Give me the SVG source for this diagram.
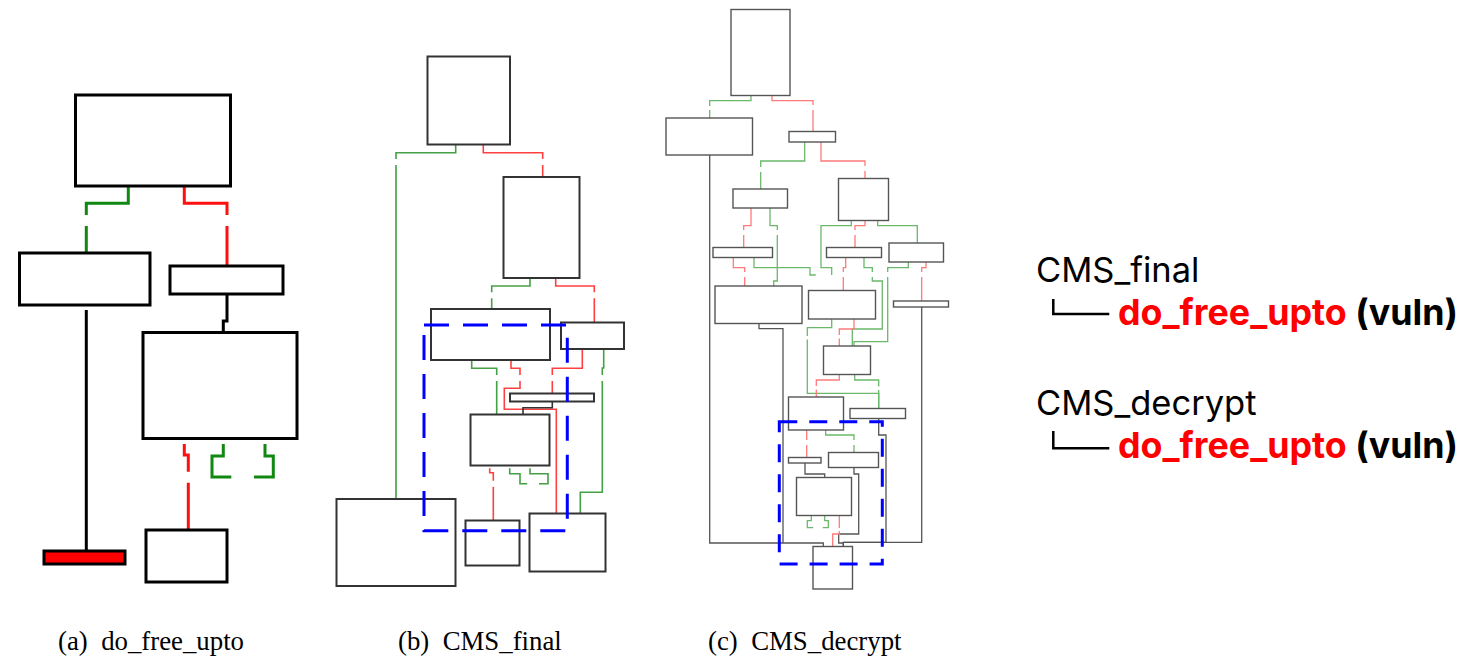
<svg xmlns="http://www.w3.org/2000/svg" width="1474" height="657" viewBox="0 0 1474 657">
  <style>
    .bg { fill: #ffffff; }
    /* panel (a): heavy strokes */
    .na { fill: #ffffff; stroke: #000000; stroke-width: 3; }
    .ea { fill: none; stroke-width: 3; }
    /* panel (b): medium strokes */
    .nb { fill: #ffffff; stroke: #333333; stroke-width: 2; }
    .eb { fill: none; stroke-width: 1.6; }
    /* panel (c): thin strokes */
    .nc { fill: #ffffff; stroke: #555555; stroke-width: 1.4; }
    .ec { fill: none; stroke-width: 1.3; }
    .g { stroke: #118811; }
    .r { stroke: #ff1010; }
    .k { stroke: #000000; }
    .gb { stroke: #44a044; }
    .rb { stroke: #ff4040; }
    .gc { stroke: #6ab86a; }
    .rc { stroke: #ff7a7a; }
    .kc { stroke: #555555; }
    .hl { fill: none; stroke: #0000ff; stroke-width: 3; }
    .cap { font-family: "Liberation Serif", "Times New Roman", serif; font-size: 26.8px; fill: #000000; }
    .fn { font-family: Inter, "Noto Sans", sans-serif; font-size: 34.5px; fill: #000000; }
    .vb { font-family: Inter, "Noto Sans", sans-serif; font-size: 35.8px; font-weight: bold; }
    .tree { fill: none; stroke: #000000; stroke-width: 2.5; }
  </style>
  <rect class="bg" x="0" y="0" width="1474" height="657"/>

  <!-- (a) do_free_upto -->
  <g id="panel-a">
    <g id="a-connectors">
      <path class="ea g" d="M128.3,187 V203.3 H86.3 V215 M86.3,226 V253"/>
      <path class="ea r" d="M184.3,187 V203.3 H227 V215 M227,226 V266"/>
      <path class="ea k" d="M227,294 V321 H223.3 V332.5"/>
      <path class="ea k" d="M86.3,310 V550"/>
      <path class="ea r" d="M184.3,444 V455 H188.3 V471.7 M188.3,482.7 V530"/>
      <path class="ea g" d="M223.3,444 V456 H212 V477 H231.3"/>
      <path class="ea g" d="M265,444 V456 H273.3 V477 H254"/>
    </g>
    <g id="a-entry"><rect class="na" x="75.5" y="95" width="155" height="91"/></g>
    <g id="a-left"><rect class="na" x="19.5" y="253" width="130.5" height="52"/></g>
    <g id="a-right"><rect class="na" x="170" y="266" width="113" height="28"/></g>
    <g id="a-body"><rect class="na" x="143" y="332.5" width="154" height="106"/></g>
    <g id="a-vuln"><rect x="44" y="551" width="81" height="13" fill="#ff0000" stroke="#000000" stroke-width="3"/></g>
    <g id="a-exit"><rect class="na" x="146" y="530" width="81" height="52"/></g>
  </g>

  <!-- (b) CMS_final -->
  <g id="panel-b">
    <g id="b-connectors">
      <path class="eb gb" d="M455.7,145 V152.7 H396 V159 M396,165 V499"/>
      <path class="eb rb" d="M483.3,145 V152.7 H542.7 V159 M542.7,165 V177"/>
      <path class="eb gb" d="M530,278 V286 H491.7 V292.3 M491.7,298.3 V309"/>
      <path class="eb rb" d="M555.7,278 V286 H594.3 V292.3 M594.3,298.3 V322.5"/>
      <path class="eb gb" d="M471.7,361 V368.3 H496.7 V375 M496.7,381 V414.5"/>
      <path class="eb rb" d="M511,361 V368.3 H520 V375 M520,381 V388.3 H504.3 V409.3 H556.3 V513.5"/>
      <path class="eb rb" d="M582.3,349 V368.3 H552.3 V375 M552.3,381 V393.5"/>
      <path class="eb gb" d="M603.7,349 V368 H602.3 V375 M602.3,381 V492.3 H580.3 V513.5"/>
      <path class="eb" stroke="#333333" d="M552.3,401.5 V407.7 H523 V414.5"/>
      <path class="eb rb" d="M489.7,468.3 V472.7 H493.3 V480.7 M493.3,486.7 V520.5"/>
      <path class="eb gb" d="M509.7,468.3 V473.7 H520 V483.7 H527.3"/>
      <path class="eb gb" d="M530,468.3 V473.7 H548 V483.7 H539"/>
    </g>
    <g id="b-n1"><rect class="nb" x="427.5" y="56.5" width="82.5" height="88"/></g>
    <g id="b-n2"><rect class="nb" x="503.5" y="177" width="76" height="101"/></g>
    <g id="b-n3"><rect class="nb" x="431" y="309" width="119" height="51"/></g>
    <g id="b-n4"><rect class="nb" x="561" y="322.5" width="63" height="26.5"/></g>
    <g id="b-n5"><rect class="nb" x="510" y="393.5" width="84" height="8"/></g>
    <g id="b-n6"><rect class="nb" x="470.5" y="414.5" width="79" height="51"/></g>
    <g id="b-n7"><rect class="nb" x="336.5" y="499" width="119" height="87"/></g>
    <g id="b-n8"><rect class="nb" x="465.5" y="520.5" width="54" height="45"/></g>
    <g id="b-n9"><rect class="nb" x="529.5" y="513.5" width="76" height="58"/></g>
    <g id="b-region"><rect class="hl" x="424" y="325" width="143.3" height="205.7" stroke-dasharray="25 14"/></g>
  </g>

  <!-- (c) CMS_decrypt -->
  <g id="panel-c">
    <g id="c-connectors">
      <path class="ec gc" d="M751,95.5 V100.7 H709.7 V106 M709.7,110 V118"/>
      <path class="ec rc" d="M772,95.5 V100.7 H813 V105 M813,110 V131.5"/>
      <path class="ec kc" d="M709.7,155 V543 H823.3 V546.5"/>
      <path class="ec gc" d="M804.7,142 V161 H760.7 V167 M760.7,172 V189"/>
      <path class="ec rc" d="M821,142 V161 H865 V166 M865,171 V178.5"/>
      <path class="ec rc" d="M751,208 V225.7 H743.7 V230 M743.7,235 V247.5"/>
      <path class="ec gc" d="M770,208 V225.7 H777.3 V230 M777.3,235 V281 H773.7 V286"/>
      <path class="ec rc" d="M733.3,257.5 V267.7 H744.7 V272 M744.7,277 V286"/>
      <path class="ec gc" d="M754,257.5 V267.7 H810 V275 H815.7"/>
      <path class="ec gc" d="M831.7,275 V267.7 H821 V225.7 H851.3 V220.5"/>
      <path class="ec rc" d="M865,220.5 V225.7 H855 V230 M855,235 V247.5"/>
      <path class="ec gc" d="M877.7,220.5 V225.7 H917.3 V243"/>
      <path class="ec rc" d="M845.7,257.5 V267.7 H843.3 V272 M843.3,277 V290.5"/>
      <path class="ec gc" d="M864,257.5 V267.7 H872.3 V272 M872.3,277 V281 H882.3 V329 H852.3 V346"/>
      <path class="ec rc" d="M926,262 V267.7 H921.7 V272 M921.7,277 V301"/>
      <path class="ec gc" d="M908.3,262 V267.7 H887.7 V272 M887.7,277 V341.7 H854 V346"/>
      <path class="ec kc" d="M921.7,307 V542.3 H843.3 V546.5"/>
      <path class="ec kc" d="M759,323.5 V328.7 H783 V543"/>
      <path class="ec rc" d="M854,319 V329 H839.3 V335 M839.3,338.5 V346"/>
      <path class="ec gc" d="M831.7,319 V327.7 H807.3 V336 M807.3,339.5 V393.3 H878.7 V408.5"/>
      <path class="ec rc" d="M839.3,374.5 V380 H816.3 V386 M816.3,389.5 V397"/>
      <path class="ec gc" d="M854.7,374.5 V380 H878.7 V386.5 M878.7,390 V408.5"/>
      <path class="ec rc" d="M806.7,430 V440 M806.7,445 V457.5"/>
      <path class="ec gc" d="M825.7,430 V435 H854 V440 M854,445 V452.5"/>
      <path class="ec kc" d="M878.7,418.5 V435 H886 V542.3 H843.3"/>
      <path class="ec kc" d="M805,463 V474 H824.7 V477.5"/>
      <path class="ec kc" d="M854,467.5 V474 H858.7 V534 H838.7 V543 H843.3 V546.5"/>
      <path class="ec gc" d="M811.3,515.5 V520.7 H807.3 V527.7 H813.3"/>
      <path class="ec gc" d="M824.7,515.5 V520.7 H828.3 V527.7 H822.7"/>
      <path class="ec rc" d="M839.3,515.5 V528 M839.3,531 V534 H832.7 V546.5"/>
    </g>
    <g id="c-n0"><rect class="nc" x="731" y="9.5" width="59" height="86"/></g>
    <g id="c-n1"><rect class="nc" x="666" y="118" width="86.5" height="37"/></g>
    <g id="c-n2"><rect class="nc" x="789" y="131.5" width="46.5" height="10.5"/></g>
    <g id="c-n3"><rect class="nc" x="733" y="189" width="54.5" height="19"/></g>
    <g id="c-n4"><rect class="nc" x="838.5" y="178.5" width="50" height="42"/></g>
    <g id="c-n5"><rect class="nc" x="713" y="247.5" width="59.5" height="10"/></g>
    <g id="c-n6"><rect class="nc" x="826.5" y="247.5" width="55" height="10"/></g>
    <g id="c-n7"><rect class="nc" x="889" y="243" width="54.5" height="19"/></g>
    <g id="c-n8"><rect class="nc" x="715" y="286" width="87" height="37.5"/></g>
    <g id="c-n9"><rect class="nc" x="808.5" y="290.5" width="67" height="28.5"/></g>
    <g id="c-n10"><rect class="nc" x="893.5" y="301" width="55" height="6"/></g>
    <g id="c-n11"><rect class="nc" x="823.5" y="346" width="47" height="28.5"/></g>
    <g id="c-n12"><rect class="nc" x="788.5" y="397" width="55" height="33"/></g>
    <g id="c-n13"><rect class="nc" x="850" y="408.5" width="55.5" height="10"/></g>
    <g id="c-n14"><rect class="nc" x="788.5" y="457.5" width="32.5" height="5.5"/></g>
    <g id="c-n15"><rect class="nc" x="828.5" y="452.5" width="50" height="15"/></g>
    <g id="c-n16"><rect class="nc" x="796.5" y="477.5" width="55" height="38"/></g>
    <g id="c-n17"><rect class="nc" x="813" y="546.5" width="39.5" height="42.5"/></g>
    <g id="c-region"><rect class="hl" x="779.3" y="421.7" width="103" height="142.3" stroke-dasharray="18 12"/></g>
  </g>

  <!-- sub-figure captions -->
  <g id="captions">
    <text class="cap" x="58" y="650" xml:space="preserve">(a)  do_free_upto</text>
    <text class="cap" x="398" y="650" xml:space="preserve">(b)  CMS_final</text>
    <text class="cap" x="708" y="650" xml:space="preserve">(c)  CMS_decrypt</text>
  </g>

  <!-- call chains -->
  <g id="chain-final">
    <text class="fn" x="1036" y="281.7">CMS_final</text>
    <path class="tree" d="M1053.3,299 V314 H1109.3"/>
    <text class="vb" x="1118" y="325"><tspan fill="#ff0000">do_free_upto</tspan><tspan fill="#000000"> (vuln)</tspan></text>
  </g>
  <g id="chain-decrypt">
    <text class="fn" x="1036" y="415">CMS_decrypt</text>
    <path class="tree" d="M1053.3,431 V448.3 H1109.3"/>
    <text class="vb" x="1118" y="458.3"><tspan fill="#ff0000">do_free_upto</tspan><tspan fill="#000000"> (vuln)</tspan></text>
  </g>
</svg>
